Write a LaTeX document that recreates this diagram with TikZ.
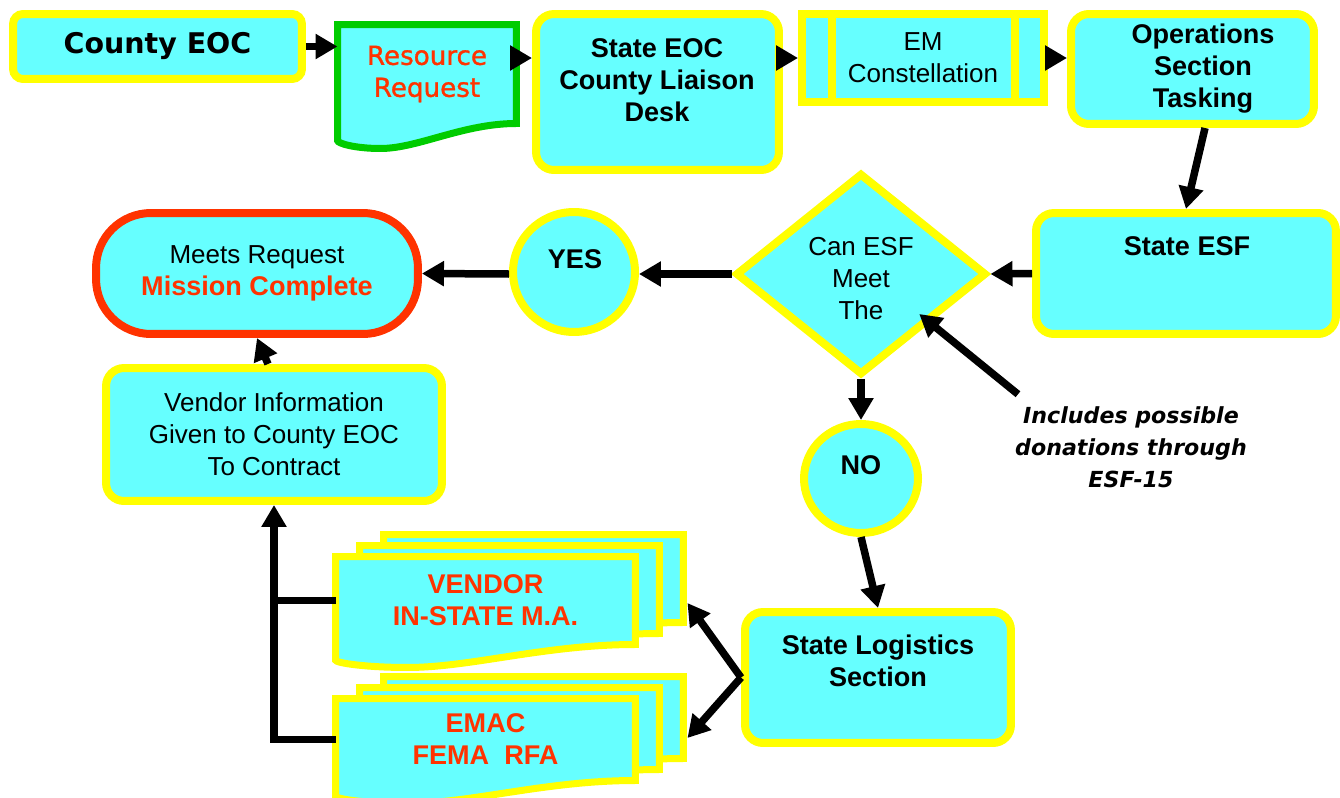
\documentclass[tikz,border=0pt]{standalone}
\usepackage{fontspec}
\setmainfont{Liberation Sans}
\newfontfamily\verdana{DejaVu Sans}
\newfontfamily\verdanamid{DejaVu Sans}[FakeBold=1.2]
\usetikzlibrary{shapes.geometric,arrows.meta,calc,backgrounds}
\definecolor{boxcyan}{HTML}{66FFFF}
\definecolor{boxyellow}{HTML}{FFFF00}
\definecolor{reqgreen}{HTML}{00CC00}
\definecolor{donered}{HTML}{FF3300}

\newcommand{\docshape}[3][]{%
  \path[#1] (#2.north west) -- (#2.north east) -- (#2.south east)
    .. controls ($(#2.south east)!0.3!(#2.south west)$) and ($(#2.south east)!0.55!(#2.south west)+(0,#3)$) .. ($(#2.south east)!0.76!(#2.south west)+(0,#3)$)
    .. controls ($(#2.south east)!0.9!(#2.south west)+(0,#3)$) and ($(#2.south west)+(0,0.8*#3)$) .. ($(#2.south west)+(0,0.68*#3)$) -- cycle;}

\begin{document}
\begin{tikzpicture}[x=0.02cm, y=-0.02cm,
    box/.style={rectangle, draw=boxyellow, fill=boxcyan, line width=0.16cm, rounded corners=0.36cm, inner sep=0pt, align=center},
    plainbox/.style={box, sharp corners},
    bubble/.style={ellipse, draw=boxyellow, fill=boxcyan, line width=0.16cm, inner sep=0pt},
    decision/.style={diamond, draw=boxyellow, fill=boxcyan, line width=0.16cm, inner sep=0pt},
    terminal/.style={box, draw=donered, rounded corners=1.1cm},
    docnode/.style={inner sep=0pt, outer sep=0pt, minimum width=6cm, align=center},
    doc/.style={draw=boxyellow, fill=boxcyan, line width=0.14cm},
    txt/.style={align=center, font=\fontsize{14.8}{18.2}\selectfont},
    boldtxt/.style={align=center, font=\fontsize{15.4}{18.2}\selectfont\bfseries},
    redtxt/.style={boldtxt, text=donered},
    arrow/.style={line width=0.15cm, -{Triangle[length=0.44cm, width=0.48cm]}},
    link/.style={line width=0.15cm}
]
    \useasboundingbox (0,0) rectangle (1340,798);

    \node[box, rounded corners=0.2cm, minimum width=5.78cm, minimum height=1.3cm, font=\verdana\fontsize{16.2}{19}\selectfont\bfseries] (countyeoc) at (157.5,46.5) {County EOC};
    \node[docnode, minimum width=3.58cm, minimum height=1.98cm, text=donered, font=\verdanamid\fontsize{14.9}{18.2}\selectfont] (resreq) at (427,74) {Resource\\Request};
    \node[box, minimum width=4.86cm, minimum height=3.12cm] (stateeoc) at (657.5,92) {};
    \node[boldtxt] (stateeoctext) at (657,80) {State EOC\\County Liaison\\Desk};
    \node[plainbox, txt, minimum width=4.84cm, minimum height=1.76cm] (emcon) at (923,58) {EM\\Constellation};
    \draw[boxyellow, line width=0.16cm] ([xshift=0.67cm]emcon.north west) -- ([xshift=0.67cm]emcon.south west);
    \draw[boxyellow, line width=0.16cm] ([xshift=-0.65cm]emcon.north east) -- ([xshift=-0.65cm]emcon.south east);
    \node[box, minimum width=4.86cm, minimum height=2.2cm] (opstask) at (1192.5,69) {};
    \node[boldtxt] (opstasktext) at (1203,68.5) {Operations\\Section\\Tasking};

    \node[box, minimum width=6cm, minimum height=2.42cm] (stateesf) at (1186,273.5) {};
    \node[boldtxt] (stateesftext) at (1187,246) {State ESF};
    \node[decision, minimum width=5.02cm, minimum height=4.04cm] (canesf) at (861,274) {};
    \node[txt] (canesftext) at (861,278.5) {Can ESF\\Meet\\The};
    \node[bubble, minimum width=2.44cm, minimum height=2.4cm] (yes) at (574,272) {};
    \node[boldtxt] (yestext) at (575,259) {YES};
    \node[terminal, txt, minimum width=6.44cm, minimum height=2.42cm] (mission) at (257,273.5) {Meets Request\\{\bfseries\fontsize{15.4}{18.2}\selectfont\color{donered}Mission Complete}};

    \node[box, txt, minimum width=6.72cm, minimum height=2.66cm] (vendorinfo) at (274,434.5) {Vendor Information\\Given to County EOC\\To Contract};
    \node[bubble, minimum width=2.28cm, minimum height=2.18cm] (no) at (861,478.5) {};
    \node[boldtxt] (notext) at (861,465) {NO};
    \node[txt, font=\verdana\fontsize{12.6}{18.2}\selectfont\bfseries\itshape] (includes) at (1131,447) {Includes possible\\donations through\\ESF-15};
    \node[box, minimum width=5.32cm, minimum height=2.62cm] (logistics) at (878,677.5) {};
    \node[boldtxt] (logisticstext) at (878,661) {State Logistics\\Section};

    \node[docnode, minimum height=1.76cm] (vendorback) at (533.5,578.5) {};
    \node[docnode, minimum height=1.76cm] (vendormid) at (509.5,589.5) {};
    \node[docnode, redtxt, minimum height=1.76cm] (vendorfront) at (485.5,600.5) {VENDOR\\IN-STATE M.A.};
    \node[docnode, minimum height=1.64cm] (emacback) at (533.5,717.5) {};
    \node[docnode, minimum height=1.64cm] (emacmid) at (509.5,728.5) {};
    \node[docnode, redtxt, minimum height=1.64cm] (emacfront) at (485.5,739.5) {EMAC\\FEMA~~RFA};

    \begin{scope}[on background layer]
        \docshape[draw=reqgreen, fill=boxcyan, line width=0.14cm]{resreq}{25}
        \docshape[doc]{vendorback}{23}
        \docshape[doc]{vendormid}{23}
        \docshape[doc]{vendorfront}{23}
        \docshape[doc]{emacback}{23}
        \docshape[doc]{emacmid}{23}
        \docshape[doc]{emacfront}{23}
    \end{scope}

    \draw[arrow] (countyeoc.east) -- (countyeoc.east -| resreq.west);
    \draw[arrow] (resreq.east |- emcon.west) -- (stateeoc.west |- emcon.west);
    \draw[arrow] (stateeoc.east |- emcon.west) -- (emcon.west);
    \draw[arrow] (emcon.east) -- (opstask.west |- emcon.east);
    \draw[arrow] ([xshift=0.25cm]opstask.south) -- (stateesf.north);
    \draw[arrow] (stateesf.west) -- (canesf.east);
    \draw[arrow] (canesf.west) -- (canesf.west -| yes.east);
    \draw[arrow] (yes.west |- canesf.west) -- (mission.east);
    \draw[arrow] (canesf.south) -- (no.north);
    \draw[arrow] (no.south) -- (logistics.north);
    \draw[arrow] (logistics.west) -- ([xshift=0.08cm,yshift=-0.49cm]vendorback.east);
    \draw[arrow] (logistics.west) -- ([xshift=0.08cm,yshift=-0.41cm]emacback.east);
    \draw[link] (vendorfront.west) -- (vendorfront.west -| vendorinfo.south);
    \draw[arrow] (emacfront.west) -| (vendorinfo.south);
    \draw[arrow] ([xshift=-0.12cm]vendorinfo.north) -- (mission.south);
    \draw[arrow] ([xshift=0.18cm,yshift=0.12cm]includes.north west) -- ([xshift=-0.13cm,yshift=0.25cm]canesf.south east);
\end{tikzpicture}
\end{document}
